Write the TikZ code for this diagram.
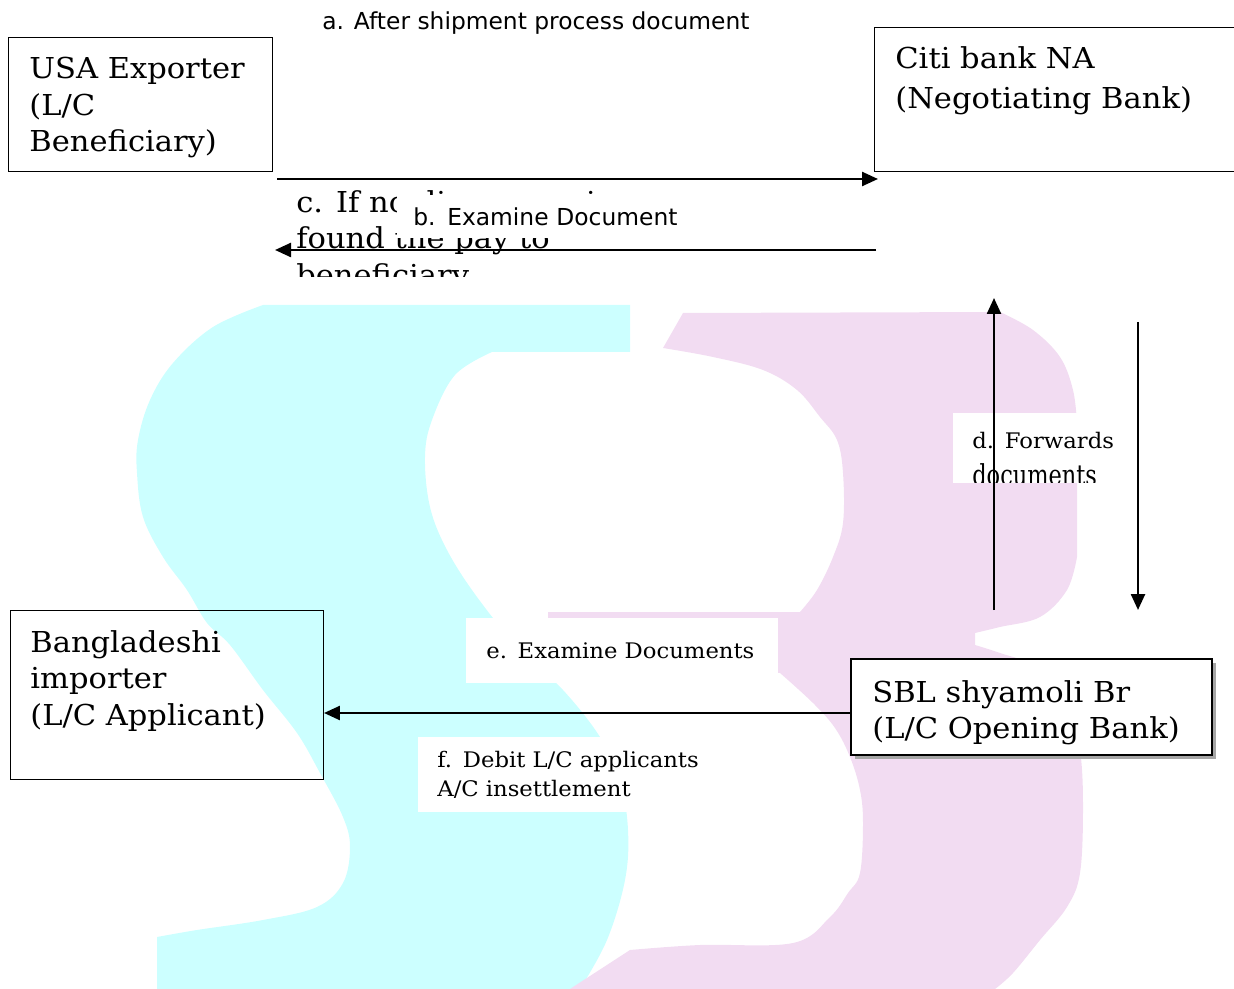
\documentclass[tikz,border=0pt]{standalone}
\usepackage{fontspec}
\newfontfamily\bookfont[FakeStretch=1.06]{DejaVu Serif}
\newfontfamily\narrowfont[FakeStretch=0.78]{DejaVu Serif}
\newfontfamily\tahfont{DejaVu Sans}
\usetikzlibrary{arrows.meta, shadows}
\definecolor{wmCyan}{HTML}{CCFFFF}
\definecolor{wmPink}{HTML}{F2DCF2}
\definecolor{shadowGrey}{HTML}{A6A6A6}
\tikzset{
  % one pixel of the original page is one unit here
  flow/.style   = {-{Triangle[length=3.2mm, width=2.8mm]}, line width=1.4pt},
  box/.style    = {draw, line width=0.6pt, anchor=north west, inner sep=0pt},
  boxtxt/.style = {anchor=north west, inner sep=0pt, align=left,
                   font={\bookfont\fontsize{16.4}{20.8}\selectfont}},
  note/.style   = {fill=white, anchor=north west, inner ysep=0pt, align=left,
                   font={\bookfont\fontsize{12.2}{16.5}\selectfont}},
  tah/.style    = {font={\tahfont\fontsize{#1}{#1}\selectfont}},
}

\begin{document}
\begin{tikzpicture}[x=0.02cm, y=-0.02cm]
  \useasboundingbox (0,0) rectangle (1234,989);
  % watermark letters S and B
  \fill[wmCyan] (263,305) -- (630,305) -- (630,352) -- (492,352)
    -- plot[smooth, tension=0.6] coordinates {(492,352) (455,375) (432,420)
       (425,457) (430,507) (447,550) (477,597) (520,650) (563,690) (600,737)
       (620,780) (628,830) (625,880) (607,940) (580,989)}
    -- (157,989) -- (157,937)
    -- plot[smooth, tension=0.6] coordinates {(157,937) (197,930) (263,920)
       (317,907) (343,883) (350,847) (343,817) (320,773) (297,733) (263,690)
       (230,645) (207,623) (187,590) (163,557) (143,517) (137,473) (138,440)
       (150,400) (173,363) (213,327) (263,305)} -- cycle;
  \fill[wmPink] (683,313) -- (1000,312)
    -- plot[smooth, tension=0.6] coordinates {(1000,312) (1033,330) (1060,357)
       (1073,390) (1077,423)} -- (1077,557)
    -- plot[smooth, tension=0.6] coordinates {(1077,557) (1067,590) (1040,617)
       (1000,627) (975,633)} -- (975,645)
    -- plot[smooth, tension=0.6] coordinates {(975,645) (1000,653) (1040,668)
       (1068,700) (1080,750) (1083,807) (1080,873) (1067,907) (1040,940)
       (1013,973) (995,989)} -- (570,989) -- (630,950)
    -- plot[smooth, tension=0.6] coordinates {(630,950) (700,945) (793,943)
       (830,917) (848,893) (860,873) (863,823) (860,790) (850,757) (835,728)
       (813,703) (780,673)} -- (548,668) -- (548,612) -- (800,612)
    -- plot[smooth, tension=0.6] coordinates {(800,612) (817,590) (833,557)
       (843,523) (843,473) (837,440) (820,417) (797,390) (763,370) (713,357)
       (663,348)} -- cycle;

  % parties and banks
  \node[box, minimum width=5.28cm, minimum height=2.68cm] (usa) at (8,37) {};
  \node[boxtxt] (usaTxt) at (29,57) {USA Exporter\\(L/C\\Beneficiary)};
  \node[box, minimum width=8cm, minimum height=2.88cm] (citi) at (874,27) {};
  \node[boxtxt] (citiTxt) at (895,46) {Citi bank NA\\[2pt](Negotiating Bank)};
  \node[box, minimum width=6.26cm, minimum height=3.38cm] (bd) at (10,610) {};
  \node[boxtxt] (bdTxt) at (30,630) {Bangladeshi\\importer\\(L/C Applicant)};
  \node[box, line width=1.1pt, fill=white, minimum width=7.22cm, minimum height=1.92cm,
        drop shadow={shadow xshift=0.09cm, shadow yshift=-0.09cm, fill=shadowGrey, opacity=1}]
        (sbl) at (850,658) {};
  \node[boxtxt] (sblTxt) at (872,680) {SBL shyamoli Br\\(L/C Opening Bank)};

  % step labels
  \node[tah=13.3, anchor=base west, inner sep=0pt] (lblA) at (322,30)
       {a. After shipment process document};
  \begin{scope}
    \clip (280,183) rectangle (880,277);
    \node[boxtxt] (lblC) at (296,190) {c. If no discrepancies\\found the pay to\\beneficiary};
  \end{scope}
  \node[tah=13.3, fill=white, anchor=north west, inner xsep=0.32cm, inner ysep=0pt,
        text width=6cm, minimum height=0.86cm, align=left] (lblB) at (397,195)
       {b. Examine Document};
  \begin{scope}
    \clip (900,413) rectangle (1200,483);
    \node[note, inner xsep=0.38cm, inner ysep=0.38cm, text width=3.3cm] (lblD)
         at (953,413) {d. Forwards\\[4.5pt]{\narrowfont\fontsize{16.4}{20}\selectfont documents}};
  \end{scope}
  \node[note, inner xsep=0.4cm, text width=5.44cm, minimum height=1.3cm] (lblE)
       at (466,618) {e. Examine Documents};
  \node[note, inner xsep=0.38cm, text width=5.28cm, minimum height=1.5cm] (lblF)
       at (418,737) {f. Debit L/C applicants\\A/C insettlement};

  % flows
  \coordinate (aStart) at (277,179);
  \coordinate (aEnd)   at (878,179);
  \coordinate (cStart) at (876,250);
  \coordinate (cEnd)   at (275,250);
  \coordinate (dStart) at (994,610);
  \coordinate (dEnd)   at (994,298);
  \coordinate (upStart) at (1138,322);
  \coordinate (upEnd)   at (1138,610);
  \coordinate (efRow)  at (0,713);
  \draw[flow] (aStart) -- (aEnd);
  \draw[flow] (cStart) -- (cEnd);
  \draw[flow] (dStart) -- (dEnd);
  \draw[flow] (upStart) -- (upEnd);
  \draw[flow] (sbl.west |- efRow) -- (bd.east |- efRow);
\end{tikzpicture}
\end{document}
